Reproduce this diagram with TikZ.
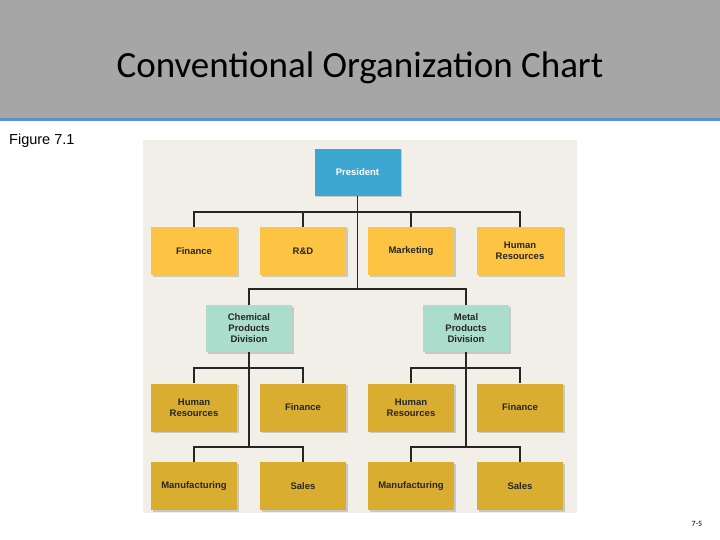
\documentclass[tikz,border=0pt]{standalone}
\usepackage{fontspec}
\setmainfont{Liberation Sans}
\newfontfamily\titlefont{Carlito}
\usetikzlibrary{positioning,shadows}
\definecolor{bandgray}{HTML}{A6A6A6}
\definecolor{bandline}{HTML}{5B8FD1}
\definecolor{chartbg}{HTML}{F2EFE8}
\definecolor{presblue}{HTML}{3DA6D1}
\definecolor{staffyellow}{HTML}{FDC443}
\definecolor{divteal}{HTML}{ABDDCC}
\definecolor{unitgold}{HTML}{D9AE30}
\tikzset{
  unit/.style={minimum width=86pt, minimum height=48pt, align=center,
    font=\fontsize{9.5}{11}\selectfont\bfseries, text=black!85,
    drop shadow={shadow xshift=1.5pt, shadow yshift=-1.5pt, opacity=.35}},
  staff/.style={unit, fill=staffyellow},
  division/.style={unit, fill=divteal},
  dept/.style={unit, fill=unitgold},
  wire/.style={line width=1.6pt, black!85}
}
\begin{document}
\begin{tikzpicture}[x=1pt,y=-1pt]
	\useasboundingbox (0,0) rectangle (720,540);
	\fill[bandgray] (0,0) rectangle (720,118);
	\fill[bandline] (0,118) rectangle (720,121);
	\node[font=\titlefont\fontsize{37}{40}\selectfont] (title) at (360,68) {Conventional Organization Chart};
	\node[anchor=west, font=\fontsize{14.5}{16}\selectfont, inner sep=0pt] (fig) at (9,141) {Figure 7.1};
	\fill[chartbg] (143,140) rectangle (577,513);
	% top
	\node[unit, fill=presblue, text=white, minimum height=47pt] (pres) at (357.5,172.5) {President};
	% staff row
	\node[staff] (fin) at (194,251) {Finance};
	\node[staff] (rd) at (303,251) {R\&D};
	\node[staff] (mkt) at (411,251) {Marketing};
	\node[staff] (hr) at (520,251) {Human\\Resources};
	% divisions
	\node[division, minimum height=47pt] (chem) at (249,328.5) {Chemical\\Products\\Division};
	\node[division, minimum height=47pt] (metal) at (466,328.5) {Metal\\Products\\Division};
	% units
	\node[dept] (chr) at (194,407.5) {Human\\Resources};
	\node[dept] (cfin) at (303,407.5) {Finance};
	\node[dept] (mhr) at (411,407.5) {Human\\Resources};
	\node[dept] (mfin) at (520,407.5) {Finance};
	\node[dept] (cman) at (194,486) {Manufacturing};
	\node[dept] (csal) at (303,486) {Sales};
	\node[dept] (mman) at (411,486) {Manufacturing};
	\node[dept] (msal) at (520,486) {Sales};
	% lines
	\coordinate (top) at (357.5,212);
	\coordinate (split) at (357.5,289);
	\draw[wire] (pres.south) -- (split);
	\draw[wire] (fin.north) |- (top) -| (hr.north);
	\draw[wire] (rd.north) -- (rd.north |- top);
	\draw[wire] (mkt.north) -- (mkt.north |- top);
	\draw[wire] (chem.north) |- (split) -| (metal.north);
	\foreach \d/\a/\b/\c/\e in {chem/chr/cfin/cman/csal, metal/mhr/mfin/mman/msal}{
		\draw[wire] (\d.south) -- (\d.south |- 0,447);
		\draw[wire] (\a.north) |- (\d.south |- 0,368) -| (\b.north);
		\draw[wire] (\c.north) |- (\d.south |- 0,447) -| (\e.north);
	}
	\node[font=\titlefont\fontsize{8}{9}\selectfont] (page) at (697,524) {7-5};
\end{tikzpicture}
\end{document}
